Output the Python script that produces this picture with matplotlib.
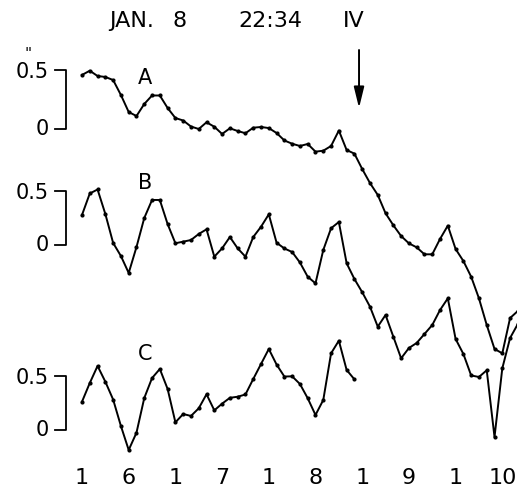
import numpy as np
import matplotlib
matplotlib.use("Agg")
import matplotlib.pyplot as plt

# ---- data (arcsec), sampled every 5 s starting at t = 5.5 min ----
t_start = 5.5
dt = 1.0 / 12.0

trace_A = [0.458, 0.494, 0.449, 0.441, 0.415, 0.288, 0.144, 0.110, 0.212, 0.284,
           0.284, 0.178, 0.093, 0.072, 0.021, 0.000, 0.057, 0.019, -0.042, 0.006,
           -0.017, -0.036, 0.011, 0.017, 0.008, -0.034, -0.097, -0.125, -0.144, -0.127,
           -0.192, -0.184, -0.144, -0.013, -0.178, -0.209, -0.339, -0.458, -0.559, -0.714,
           -0.816, -0.907, -0.969, -1.003, -1.062, -1.062, -0.932, -0.819, -1.017, -1.119,
           -1.252, -1.435, -1.661, -1.864, -1.901, -1.602, -1.542]

trace_B = [0.278, 0.477, 0.514, 0.287, 0.019, -0.102, -0.259, -0.019, 0.250, 0.417,
           0.417, 0.194, 0.016, 0.031, 0.046, 0.102, 0.145, -0.108, -0.031, 0.074,
           -0.031, -0.108, 0.074, 0.169, 0.284, 0.021, -0.032, -0.065, -0.162, -0.294,
           -0.355, -0.046, 0.155, 0.213, -0.169, -0.315, -0.437, -0.571, -0.756, -0.648,
           -0.849, -1.049, -0.954, -0.907, -0.824, -0.741, -0.602, -0.494, -0.870, -1.009,
           -1.208, -1.222, -1.160, -1.778, -1.142, -0.861, -0.731]

trace_C = [0.262, 0.435, 0.593, 0.447, 0.282, 0.037, -0.185, -0.025, 0.296, 0.481,
           0.565, 0.380, 0.071, 0.148, 0.130, 0.201, 0.331, 0.182, 0.244, 0.298,
           0.308, 0.329, 0.472, 0.611, 0.750, 0.606, 0.495, 0.497, 0.426, 0.294,
           0.139, 0.278, 0.710, 0.827, 0.556, 0.469]

trace_names = ["A", "B", "C"]
tick_pos = [5.5, 6.0, 6.5, 7.0, 7.5, 8.0, 8.5, 9.0, 9.5, 10.0]
tick_labels = ["1", "6", "1", "7", "1", "8", "1", "9", "1", "10"]
event_time = 8.466

# ---- layout (display units: vertical offsets/gains of each trace) ----
bases = [129, 245, 430]
gains = [118, 108, 108]

def X(px):
    return 5.5 + (px - 82) / 93.4

fig = plt.figure(figsize=(5.17, 4.91), dpi=100)
ax = fig.add_axes([0, 0, 1, 1])
ax.set_xlim(X(0), X(517))
ax.set_ylim(491, 0)
ax.axis("off")

font = dict(family="DejaVu Sans", color="black")

for data, base, gain, name, ly in zip([trace_A, trace_B, trace_C], bases, gains,
                                      trace_names, [78, 183, 354]):
    v = np.array(data)
    t = t_start + dt * np.arange(len(v))
    ax.plot(t, base - gain * v, color="black", lw=1.4, marker="o", ms=2.0,
            solid_joinstyle="round")
    # scale bracket 0 .. 0.5"
    top = base - gain * 0.5
    ax.plot([X(55), X(66), X(66), X(55)], [top, top, base, base],
            color="black", lw=1.3)
    ax.text(X(49), top + 2, "0.5", ha="right", va="center", fontsize=15, **font)
    ax.text(X(49), base, "0", ha="right", va="center", fontsize=15, **font)
    ax.text(X(145), ly, name, ha="center", va="center", fontsize=15, **font)

ax.text(X(28), 54, '"', ha="center", va="center", fontsize=11, **font)

for tp, tl in zip(tick_pos, tick_labels):
    ax.text(tp, 478, tl, ha="center", va="center", fontsize=16, **font)

ax.text(X(132), 21, "JAN.", ha="center", va="center", fontsize=16, **font)
ax.text(X(180), 21, "8", ha="center", va="center", fontsize=16, **font)
ax.text(X(270), 21, "22:34", ha="center", va="center", fontsize=16, **font)
ax.text(X(353.5), 21, "IV", ha="center", va="center", fontsize=16, **font)

ax.annotate("", xy=(event_time, 108), xytext=(event_time, 50),
            arrowprops=dict(arrowstyle="-|>,head_width=0.22,head_length=0.9",
                            lw=1.4, color="black", mutation_scale=14,
                            shrinkA=0, shrinkB=0))

fig.savefig("out.png", dpi=100, facecolor="white")
